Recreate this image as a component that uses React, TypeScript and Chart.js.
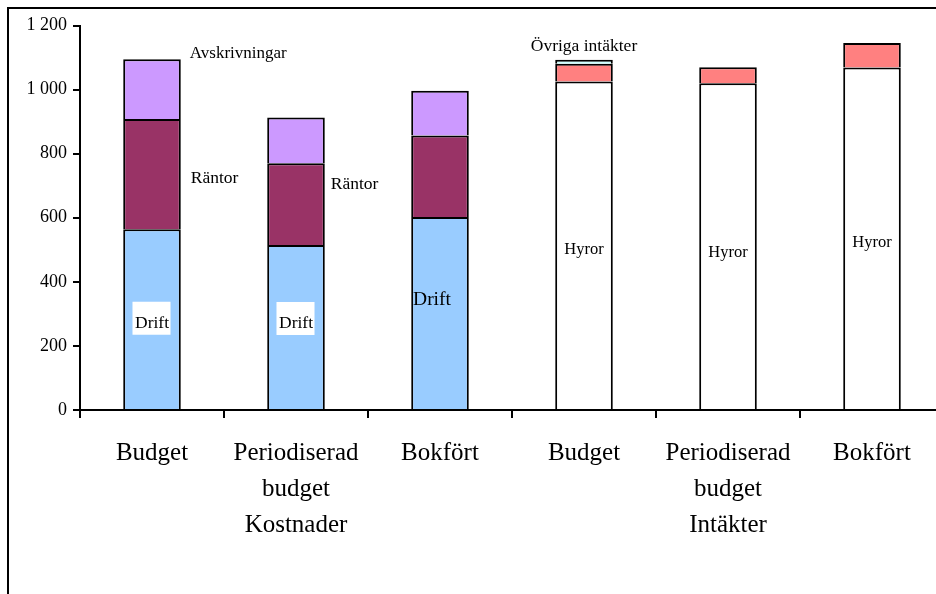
import React, { useEffect, useRef } from "react";
import { Chart, registerables } from "chart.js";

Chart.register(...registerables);

const categories: (string | string[])[] = [
  "Budget",
  ["Periodiserad", "budget", "Kostnader"],
  "Bokfört",
  "Budget",
  ["Periodiserad", "budget", "Intäkter"],
  "Bokfört",
];

const drift = [564, 515, 602, null, null, null];
const rantor = [344, 255, 255, null, null, null];
const avskrivningar = [187, 143, 139, null, null, null];
const hyror = [null, null, null, 1025, 1020, 1069];
const ovrigaRorelse = [null, null, null, 56, 50, 76];
const ovrigaIntakter = [null, null, null, 12, null, null];

const yTicks = [0, 200, 400, 600, 800, 1000, 1200];

const SERIF = '"Liberation Serif", "Times New Roman", serif';

type Ann = {
  ds: number;
  cat: number;
  text: string;
  anchor: "top" | "mid";
  align: "left" | "center";
  dx: number;
  dy: number;
  size: number;
  box?: boolean;
};

const annotations: Ann[] = [
  { ds: 2, cat: 0, text: "Avskrivningar", anchor: "top", align: "left", dx: 9, dy: -7, size: 17 },
  { ds: 1, cat: 0, text: "Räntor", anchor: "mid", align: "left", dx: 10, dy: 3, size: 17.5 },
  { ds: 1, cat: 1, text: "Räntor", anchor: "mid", align: "left", dx: 6, dy: -20.5, size: 17.5 },
  { ds: 0, cat: 0, text: "Drift", anchor: "mid", align: "center", dx: 0, dy: 3.3, size: 17.5, box: true },
  { ds: 0, cat: 1, text: "Drift", anchor: "mid", align: "center", dx: 0, dy: -4.3, size: 17.5, box: true },
  { ds: 0, cat: 2, text: "Drift", anchor: "mid", align: "center", dx: -8, dy: -14.8, size: 19.5 },
  { ds: 3, cat: 3, text: "Hyror", anchor: "mid", align: "center", dx: 0, dy: 3.7, size: 16.5 },
  { ds: 3, cat: 4, text: "Hyror", anchor: "mid", align: "center", dx: 0, dy: 5, size: 16.5 },
  { ds: 3, cat: 5, text: "Hyror", anchor: "mid", align: "center", dx: 0, dy: 3.4, size: 16.5 },
  { ds: 5, cat: 3, text: "Övriga intäkter", anchor: "top", align: "center", dx: 0, dy: -15, size: 17.5 },
];

const framePlugin = {
  id: "frame",
  afterDraw(chart: any) {
    const ctx = chart.ctx;
    ctx.save();
    ctx.strokeStyle = "#000";
    ctx.lineWidth = 2;
    ctx.strokeRect(8, 8, 3000, 3000);
    ctx.restore();
  },
};

const labelPlugin = {
  id: "segLabels",
  afterDatasetsDraw(chart: any) {
    const ctx = chart.ctx;
    ctx.save();
    for (const a of annotations) {
      const el = chart.getDatasetMeta(a.ds).data[a.cat];
      if (!el) continue;
      const p = el.getProps(["x", "y", "base", "width"], true);
      const top = Math.min(p.y, p.base);
      const bottom = Math.max(p.y, p.base);
      const right = p.x + p.width / 2;
      const x = a.align === "left" ? right + a.dx : p.x + a.dx;
      const capCenter = (a.anchor === "top" ? top : (top + bottom) / 2) + a.dy;
      const baseline = capCenter + 0.331 * a.size;
      ctx.font = `${a.size}px ${SERIF}`;
      ctx.textBaseline = "alphabetic";
      ctx.textAlign = a.align;
      const w = ctx.measureText(a.text).width;
      if (a.box) {
        const left = a.align === "center" ? x - w / 2 : x;
        ctx.fillStyle = "#fff";
        ctx.fillRect(left - 2.5, baseline - 26.5, w + 4, 33);
      }
      ctx.fillStyle = "#000";
      ctx.fillText(a.text, x, baseline);
    }
    ctx.restore();
  },
};

export default function App() {
  const ref = useRef<HTMLCanvasElement | null>(null);

  useEffect(() => {
    if (!ref.current) return;
    const border = {
      borderColor: "#000",
      borderSkipped: false as const,
      borderWidth: { left: 2, right: 2, top: 2, bottom: 0 },
    };
    const chart = new Chart(ref.current, {
      type: "bar",
      data: {
        labels: categories,
        datasets: [
          { label: "Drift", data: drift, backgroundColor: "#99CCFF", ...border },
          { label: "Räntor", data: rantor, backgroundColor: "#993366", ...border },
          { label: "Avskrivningar", data: avskrivningar, backgroundColor: "#CC99FF", ...border },
          { label: "Hyror", data: hyror, backgroundColor: "#FFFFFF", ...border },
          { label: "Övriga rörelseintäkter", data: ovrigaRorelse, backgroundColor: "#FF8080", ...border },
          { label: "Övriga intäkter", data: ovrigaIntakter, backgroundColor: "#CCFFFF", ...border },
        ] as any,
      },
      options: {
        responsive: false,
        animation: false,
        devicePixelRatio: 1,
        layout: { padding: { left: 0, right: 6, top: 25.5, bottom: 0 } },
        plugins: {
          legend: { display: false },
          tooltip: { enabled: false },
        },
        datasets: {
          bar: { barPercentage: 0.4, categoryPercentage: 1 },
        } as any,
        scales: {
          x: {
            stacked: true,
            offset: true,
            afterFit(scale: any) {
              scale.height = 184;
            },
            grid: {
              offset: true,
              drawOnChartArea: false,
              drawTicks: true,
              tickLength: 8,
              color: "#000",
              lineWidth: 2,
            },
            border: { display: true, color: "#000", width: 2 },
            ticks: {
              color: "#000",
              padding: 17,
              maxRotation: 0,
              autoSkip: false,
              font: { family: SERIF, size: 25, lineHeight: 1.45 },
            },
          },
          y: {
            stacked: true,
            min: 0,
            max: 1200,
            afterFit(scale: any) {
              scale.width = 80;
            },
            afterBuildTicks(scale: any) {
              scale.ticks = yTicks.map((v) => ({ value: v }));
            },
            grid: {
              drawOnChartArea: false,
              drawTicks: true,
              tickLength: 7,
              color: "#000",
              lineWidth: 2,
            },
            border: { display: true, color: "#000", width: 2 },
            ticks: {
              color: "#000",
              padding: 6,
              font: { family: SERIF, size: 18 },
              callback: (v: any) => {
                const n = Number(v);
                return n >= 1000
                  ? `${Math.floor(n / 1000)} ${String(n % 1000).padStart(3, "0")}`
                  : String(n);
              },
            },
          },
        },
      },
      plugins: [labelPlugin, framePlugin],
    });
    return () => chart.destroy();
  }, []);

  return (
    <div
      style={{
        position: "fixed",
        left: 0,
        top: 0,
        width: 936,
        height: 594,
        overflow: "hidden",
        background: "#fff",
      }}
    >
      <canvas ref={ref} width={950} height={594} style={{ width: 950, height: 594, display: "block" }} />
    </div>
  );
}
